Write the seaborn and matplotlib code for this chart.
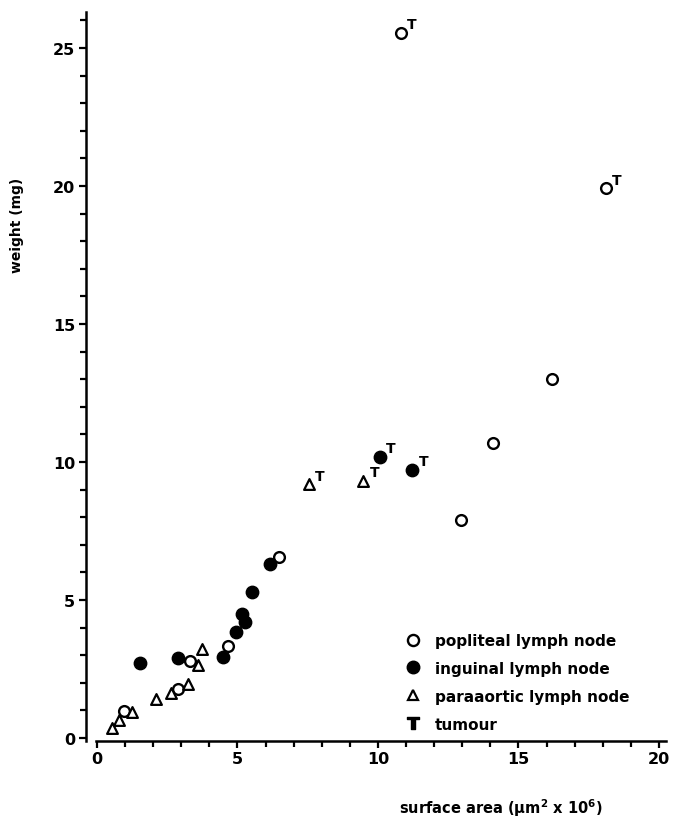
import matplotlib
matplotlib.use("Agg")
import matplotlib.pyplot as plt
import seaborn as sns
import pandas as pd
from matplotlib.lines import Line2D
from matplotlib.ticker import MultipleLocator

# ---- data ----
popliteal_x = [0.97, 2.89, 3.32, 4.65, 6.47, 12.95, 14.10, 16.20, 10.82, 18.10]
popliteal_y = [0.99, 1.76, 2.78, 3.32, 6.54, 7.90, 10.68, 13.00, 25.55, 19.93]
popliteal_tumour = [0, 0, 0, 0, 0, 0, 0, 0, 1, 1]

inguinal_x = [1.53, 2.87, 4.50, 4.94, 5.15, 5.27, 5.53, 6.16, 10.07, 11.22]
inguinal_y = [2.70, 2.90, 2.92, 3.83, 4.49, 4.21, 5.30, 6.30, 10.19, 9.72]
inguinal_tumour = [0, 0, 0, 0, 0, 0, 0, 0, 1, 1]

paraaortic_x = [0.52, 0.78, 1.23, 2.10, 2.62, 3.25, 3.58, 3.74, 7.54, 9.48]
paraaortic_y = [0.35, 0.65, 0.93, 1.41, 1.63, 1.96, 2.66, 3.24, 9.20, 9.32]
paraaortic_tumour = [0, 0, 0, 0, 0, 0, 0, 0, 1, 1]

legend_labels = ["popliteal lymph node", "inguinal lymph node",
                 "paraaortic lymph node", "tumour"]
x_ticks = [0, 5, 10, 15, 20]
y_ticks = [0, 5, 10, 15, 20, 25]

# ---- styling ----
sns.set_theme(style="ticks")
plt.rcParams['font.family'] = ['DejaVu Sans']
plt.rcParams['font.weight'] = 'bold'
plt.rcParams['text.color'] = 'black'
plt.rcParams['axes.labelcolor'] = 'black'
plt.rcParams['xtick.color'] = 'black'
plt.rcParams['ytick.color'] = 'black'

fig = plt.figure(figsize=(6.74, 8.2), dpi=100)
ax = fig.add_axes([0.1418, 0.0954, 0.8463, 0.8887])

df_p = pd.DataFrame({"x": popliteal_x, "y": popliteal_y, "t": popliteal_tumour})
df_i = pd.DataFrame({"x": inguinal_x, "y": inguinal_y, "t": inguinal_tumour})
df_a = pd.DataFrame({"x": paraaortic_x, "y": paraaortic_y, "t": paraaortic_tumour})

sns.scatterplot(data=df_p, x="x", y="y", marker="o", s=60, color="white",
                edgecolor="black", linewidth=1.7, ax=ax, zorder=3)
sns.scatterplot(data=df_i, x="x", y="y", marker="o", s=80, color="black",
                edgecolor="black", linewidth=1.0, ax=ax, zorder=3)
sns.scatterplot(data=df_a, x="x", y="y", marker="^", s=60, color="white",
                edgecolor="black", linewidth=1.6, ax=ax, zorder=3)

for df in (df_p, df_i, df_a):
    for _, r in df[df["t"] == 1].iterrows():
        ax.annotate("T", (r["x"], r["y"]), xytext=(8, 6), textcoords="offset points",
                    ha="center", va="center", fontsize=10, fontweight="bold",
                    color="black")

ax.set_xlim(-0.05, 20.25)
ax.set_ylim(-0.1, 26.3)
ax.set_xticks(x_ticks)
ax.set_yticks(y_ticks)
ax.xaxis.set_minor_locator(MultipleLocator(1))
ax.yaxis.set_minor_locator(MultipleLocator(1))

for s in ("top", "right"):
    ax.spines[s].set_visible(False)
for s in ("left", "bottom"):
    ax.spines[s].set_linewidth(1.8)
    ax.spines[s].set_color("black")
ax.spines["left"].set_position(("outward", 7))

ax.tick_params(axis="both", which="major", length=5, width=1.6, color="black",
               labelsize=11.5, pad=2.5, labelcolor="black")
ax.tick_params(axis="both", which="minor", length=4, width=1.6, color="black")
for lab in ax.get_xticklabels() + ax.get_yticklabels():
    lab.set_fontweight("bold")

ax.set_xlabel(r"surface area ($\mathregular{\mu}$m$^{\mathregular{2}}$ x 10$^{\mathregular{6}}$)",
              fontsize=10.5, fontweight="bold", color="black")
ax.set_ylabel("weight (mg)", fontsize=10, fontweight="bold", color="black")
ax.xaxis.set_label_coords(0.711, -0.076)
ax.yaxis.set_label_coords(-0.1255, 0.708)

handles = [
    Line2D([], [], ls="", marker="o", mfc="white", mec="black", mew=1.7, ms=8),
    Line2D([], [], ls="", marker="o", mfc="black", mec="black", ms=9),
    Line2D([], [], ls="", marker="^", mfc="white", mec="black", mew=1.6, ms=7),
    Line2D([], [], ls="", marker=r"$\mathbf{T}$", color="black", ms=9),
]
leg = ax.legend(handles, legend_labels, loc="upper left",
                bbox_to_anchor=(0.601, 0.227), bbox_transform=fig.transFigure,
                frameon=False, borderpad=0, borderaxespad=0, handlelength=1.0,
                handletextpad=0.95, labelspacing=0.85,
                prop={"size": 11, "weight": "bold"})
for t in leg.get_texts():
    t.set_color("black")

fig.savefig("out.png", dpi=100)
